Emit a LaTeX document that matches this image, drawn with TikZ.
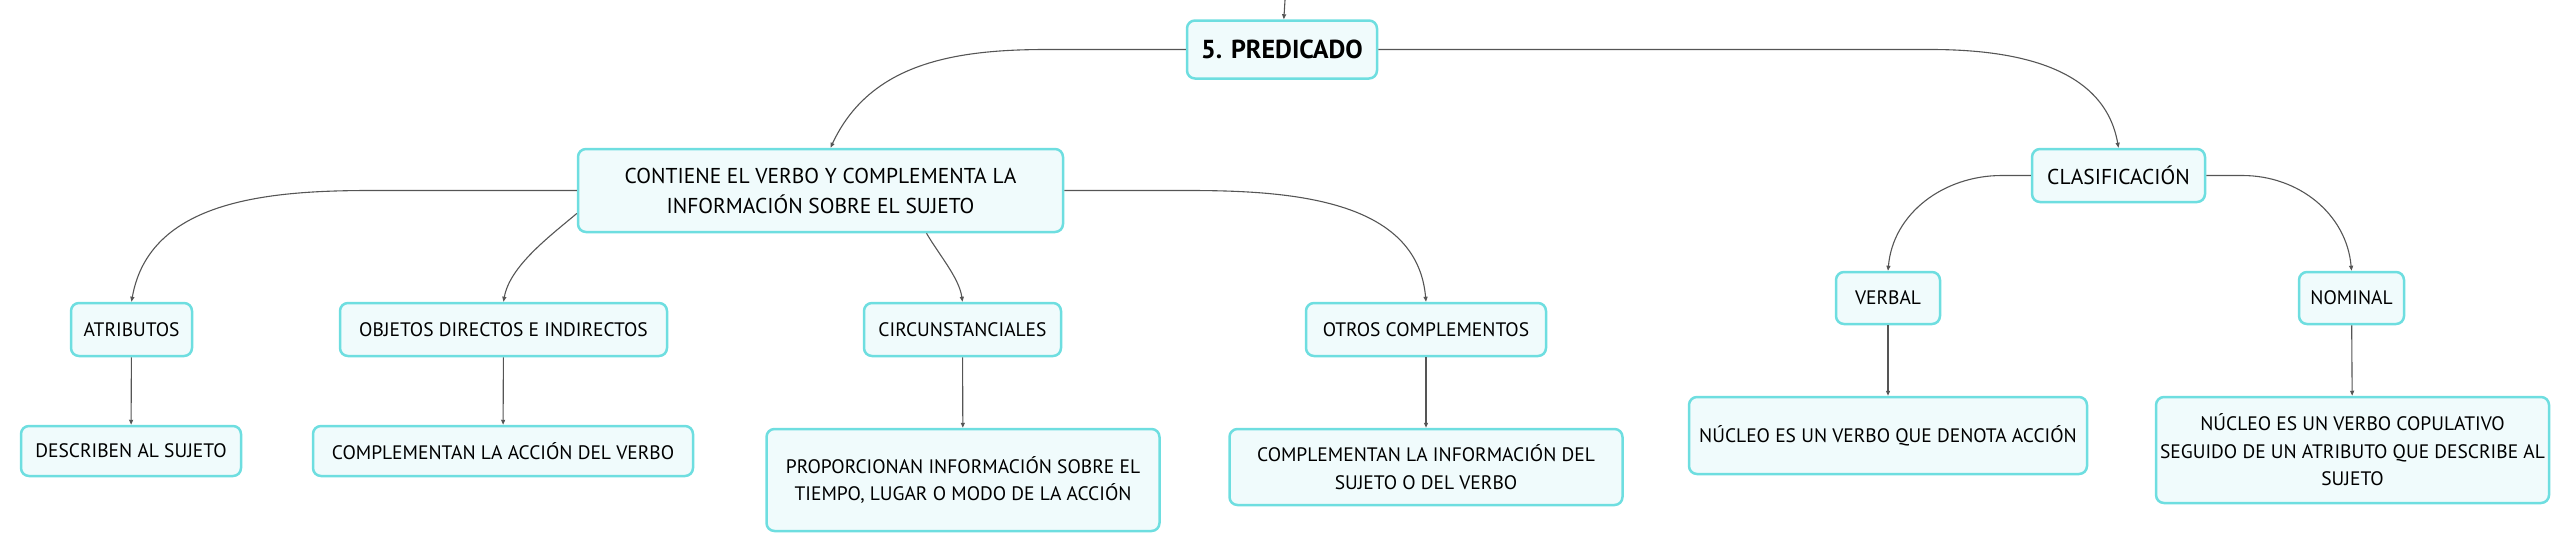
\documentclass[tikz,border=0pt]{standalone}
\usepackage{fontspec}
\setmainfont{PT Sans}
\usetikzlibrary{arrows, arrows.meta}

\definecolor{tema}{RGB}{110,222,224}
\definecolor{fondo}{RGB}{240,251,252}
\definecolor{linea}{RGB}{85,85,85}

\begin{document}
\begin{tikzpicture}[x=1pt, y=1pt,
    caja/.style={draw=tema, fill=fondo, line width=2.5pt, rounded corners=8pt, align=center, inner sep=0pt, font=\fontsize{19.5}{27.5}\selectfont},
    caja grande/.style={caja, font=\fontsize{21.5}{30}\selectfont},
    rama/.style={draw=linea, line width=1.1pt, -{Triangle[length=5pt, width=4pt]}}]

    \useasboundingbox (0,0) rectangle (2565,-552);

    \node[caja, minimum width=190pt, minimum height=58pt, font=\bfseries\fontsize{26}{30}\selectfont] (predicado) at (1282,-49.5) {5. PREDICADO};

    \node[caja grande, minimum width=485pt, minimum height=83pt] (contiene) at (820.5,-190.5) {CONTIENE EL VERBO Y COMPLEMENTA LA\\INFORMACIÓN SOBRE EL SUJETO};
    \node[caja grande, minimum width=173pt, minimum height=53pt] (clasificacion) at (2118.5,-175.5) {CLASIFICACIÓN};

    \node[caja, minimum width=121pt, minimum height=53pt] (atributos) at (131.5,-329.5) {ATRIBUTOS};
    \node[caja, minimum width=327pt, minimum height=53pt] (objetos) at (503.5,-329.5) {OBJETOS DIRECTOS E INDIRECTOS};
    \node[caja, minimum width=197pt, minimum height=53pt] (circunstanciales) at (962.5,-329.5) {CIRCUNSTANCIALES};
    \node[caja, minimum width=240pt, minimum height=53pt] (otros) at (1426,-329.5) {OTROS COMPLEMENTOS};
    \node[caja, minimum width=104pt, minimum height=52pt] (verbal) at (1888,-298) {VERBAL};
    \node[caja, minimum width=105pt, minimum height=52pt] (nominal) at (2351.5,-298) {NOMINAL};

    \node[caja, minimum width=220pt, minimum height=50pt] (describen) at (131,-451) {DESCRIBEN AL SUJETO};
    \node[caja, minimum width=380pt, minimum height=50pt] (accion) at (503,-451) {COMPLEMENTAN LA ACCIÓN DEL VERBO};
    \node[caja, minimum width=393pt, minimum height=102pt] (proporcionan) at (963,-480) {PROPORCIONAN INFORMACIÓN SOBRE EL\\TIEMPO, LUGAR O MODO DE LA ACCIÓN};
    \node[caja, minimum width=393pt, minimum height=76pt] (informacion) at (1426,-467) {COMPLEMENTAN LA INFORMACIÓN DEL\\SUJETO O DEL VERBO};
    \node[caja, minimum width=398pt, minimum height=77pt] (denota) at (1888,-435.5) {NÚCLEO ES UN VERBO QUE DENOTA ACCIÓN};
    \node[caja, minimum width=393pt, minimum height=106pt] (copulativo) at (2352.5,-450) {NÚCLEO ES UN VERBO COPULATIVO\\SEGUIDO DE UN ATRIBUTO QUE DESCRIBE AL\\SUJETO};

    % llegada desde arriba
    \coordinate (entrada) at (1285,0);
    \draw[rama] (entrada) -- (predicado);

    % predicado
    \draw[rama] (predicado.west) -- ++(-139,0) to[out=180, in=65] ([xshift=10pt]contiene.north);
    \draw[rama] (predicado.east) -- ++(552,0) to[out=0, in=100] (clasificacion.north);

    % contiene
    \draw[rama] (contiene.west) -- ++(-206,0) to[out=180, in=80] (atributos.north);
    \draw[rama] ([yshift=-23pt]contiene.west) to[out=220, in=80, looseness=0.8] (objetos.north);
    \draw[rama] ([xshift=106pt]contiene.south) to[out=-60, in=98, looseness=0.8] (circunstanciales.north);
    \draw[rama] (contiene.east) -- ++(124,0) to[out=0, in=95] (otros.north);

    % clasificacion
    \draw[rama] (clasificacion.west) -- ++(-29,0) to[out=180, in=85] (verbal.north);
    \draw[rama] (clasificacion.east) -- ++(36,0) to[out=0, in=95] (nominal.north);

    % verticales
    \draw[rama] (atributos) -- (describen);
    \draw[rama] (objetos) -- (accion);
    \draw[rama] (circunstanciales) -- (proporcionan);
    \draw[rama] (otros) -- (informacion);
    \draw[rama] (verbal) -- (denota);
    \draw[rama] (nominal) -- (copulativo);

\end{tikzpicture}
\end{document}
